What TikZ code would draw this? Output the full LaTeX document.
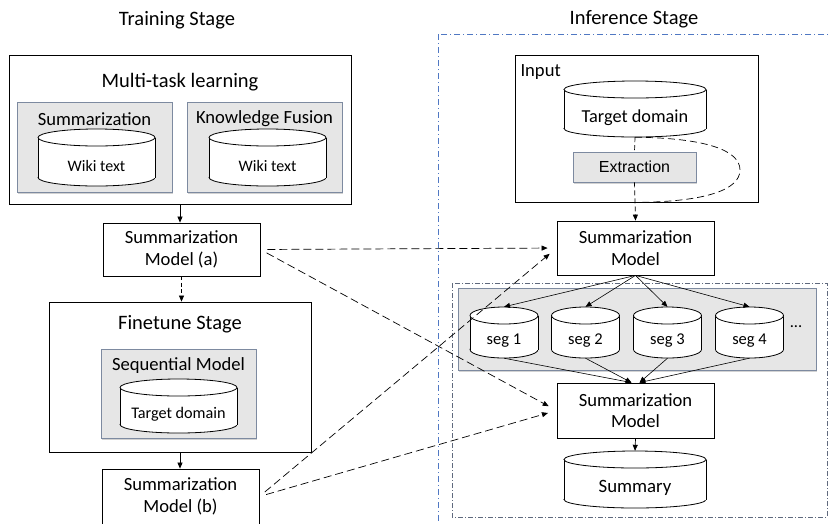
\documentclass[tikz,border=0pt]{standalone}
\usepackage{fontspec}
\setmainfont{Carlito}
\newfontfamily\arialf{Liberation Sans}
\usetikzlibrary{arrows.meta,shadows}
\definecolor{panelfill}{RGB}{230,230,230}
\definecolor{panelborder}{RGB}{125,138,160}
\definecolor{stageblue}{RGB}{80,120,195}
\definecolor{innergray}{RGB}{95,105,125}
\newcommand{\ry}{8.5}
\newcommand{\mycyl}[7]{%
 \path[fill=white,draw,line width=0.8pt] ({#2},{#4-\ry}) ellipse[x radius=#5pt, y radius=\ry pt];
 \fill[white] ({#2-#5},{#3+\ry}) rectangle ({#2+#5},{#4-\ry});
 \draw[line width=0.8pt] ({#2-#5},{#3+\ry}) -- ({#2-#5},{#4-\ry}) ({#2+#5},{#3+\ry}) -- ({#2+#5},{#4-\ry});
 \path[fill=white,draw,line width=0.8pt] ({#2},{#3+\ry}) ellipse[x radius=#5pt, y radius=\ry pt];
 \node[inner sep=0, minimum width={2*#5}, minimum height={#4-#3}] (#1) at ({#2},{(#3+#4)/2}) {};
 \node[font=#6] at ({#2},{(#3+#4)/2+\ry}) {#7};
}
\tikzset{
 titlef/.style={font=\fontsize{20.5}{24}\selectfont},
 midf/.style={font=\fontsize{18.6}{22}\selectfont},
 plainbox/.style={draw=black, line width=0.8pt, fill=white, inner sep=0},
 modelbox/.style={plainbox, align=center, font=\fontsize{18.6}{21.5}\selectfont},
 graybox/.style={draw=panelborder, line width=0.8pt, fill=panelfill, inner sep=0,
   drop shadow={shadow xshift=1.2pt, shadow yshift=-1.5pt, opacity=0.35}},
 arr/.style={line width=0.7pt, -{Triangle[length=6pt,width=5pt]}},
 darr/.style={arr, dash pattern=on 8pt off 4pt},
 sdarr/.style={arr, dash pattern=on 4pt off 2.5pt},
}
\begin{document}
\begin{tikzpicture}[x=1pt,y=-1pt]
\useasboundingbox (0,0) rectangle (829,523);
% stage titles
\node[titlef] (trtitle) at (177,20) {Training Stage};
\node[titlef] (inftitle) at (634,19) {Inference Stage};
% frames on the right
\draw[stageblue, line width=0.8pt, dash pattern=on 6pt off 3pt on 1pt off 3pt] (438,34) rectangle (840,540);
\draw[innergray, line width=0.7pt, dash pattern=on 5pt off 2pt on 1pt off 2pt] (452,283) rectangle (827,517);
% ---------- training side ----------
\node[plainbox, minimum width=342, minimum height=149] (mtl) at (180,129.5) {};
\node[titlef] (mtltitle) at (180,82) {Multi-task learning};
\node[graybox, minimum width=155, minimum height=90] (gsum) at (94.5,147) {};
\node[midf] (gsumt) at (94.5,119) {Summarization};
\node[graybox, minimum width=155, minimum height=90] (gkf) at (264.5,147) {};
\node[midf] (gkft) at (264.5,119) {Knowledge Fusion};
\mycyl{wiki1}{96.5}{129}{186}{58.5}{\fontsize{16}{19}\selectfont}{Wiki text}
\mycyl{wiki2}{267.5}{129}{186}{58.5}{\fontsize{16}{19}\selectfont}{Wiki text}

\node[modelbox, minimum width=157, minimum height=53] (ma) at (181.5,249.5) {Summarization\\Model (a)};

\node[plainbox, minimum width=262, minimum height=150] (ft) at (180,377) {};
\node[titlef] (fttitle) at (180,324) {Finetune Stage};
\node[graybox, minimum width=155, minimum height=89] (seq) at (178.5,393.5) {};
\node[midf] (seqt) at (178.5,366) {Sequential Model};
\mycyl{tgtb}{178.5}{379}{433}{58.5}{\fontsize{16.2}{19}\selectfont}{Target domain}

\node[modelbox, minimum width=157, minimum height=55] (mb) at (180.5,496.5) {Summarization\\Model (b)};

\draw[arr] (mtl.south) -- (mtl.south |- ma.north);
\draw[sdarr] (ma.south) -- (ma.south |- ft.north);
\draw[arr] (ft.south) -- (ft.south |- mb.north);

% ---------- inference side ----------
\node[plainbox, minimum width=243, minimum height=147] (inp) at (636.5,128.5) {};
\node[midf, anchor=west] (inpt) at (517,72) {Input};
\mycyl{tgt}{635}{81}{137}{71}{\fontsize{18.3}{22}\selectfont}{Target domain}
\node[graybox, minimum width=123, minimum height=30, font=\arialf\fontsize{16}{19}\selectfont] (ext) at (634.5,167) {Extraction};
\node[modelbox, minimum width=157, minimum height=54] (m1) at (635.5,248) {Summarization\\Model};

\coordinate (loopend) at (ext.south |- inp.south);
\draw[line width=0.7pt, dash pattern=on 5pt off 3pt] (tgt.south) -- (ext.north);
\draw[darr, dash pattern=on 5pt off 3pt] (ext.south) -- (m1.north);
\draw[line width=0.7pt, dash pattern=on 7pt off 4pt] (tgt.south) .. controls (705,138) and (740,150) .. (740,170) .. controls (740,190) and (705,202) .. (loopend);

\node[graybox, minimum width=358, minimum height=82] (segpanel) at (637,329) {};
\mycyl{seg1}{504}{307}{358}{34}{\fontsize{16.5}{20}\selectfont}{seg 1}
\mycyl{seg2}{585.5}{307}{358}{34}{\fontsize{16.5}{20}\selectfont}{seg 2}
\mycyl{seg3}{667.5}{307}{358}{34}{\fontsize{16.5}{20}\selectfont}{seg 3}
\mycyl{seg4}{749.5}{307}{358}{34}{\fontsize{16.5}{20}\selectfont}{seg 4}
\node[font=\fontsize{16.5}{20}\selectfont] (dots) at (796,327) {...};

\node[modelbox, minimum width=157, minimum height=55] (m2) at (635.5,410.5) {Summarization\\Model};
\mycyl{summ}{635}{451}{508}{71}{\fontsize{18.8}{22}\selectfont}{Summary}

\foreach \s in {seg1,seg2,seg3,seg4}{
  \draw[arr, line width=0.6pt] (m1.south) -- (\s.north);
}
\draw[arr, line width=0.6pt] (seg1.south) -- ([xshift=-4pt]m2.north);
\draw[arr, line width=0.6pt] (seg2.south) -- ([xshift=-4pt]m2.north);
\draw[arr, line width=0.6pt] (seg3.south) -- ([xshift=4pt]m2.north);
\draw[arr, line width=0.6pt] (seg4.south) -- ([xshift=4pt]m2.north);
\draw[arr] (m2.south) -- (summ.north);

% ---------- cross connections ----------
\draw[darr, shorten <=7pt, shorten >=9pt] (ma.east) -- (m1.west);
\draw[darr, shorten <=7pt, shorten >=9pt] (ma.east) -- (m2.west);
\draw[darr, shorten <=7pt, shorten >=9pt] (mb.east) -- (m1.west);
\draw[darr, shorten <=7pt, shorten >=9pt] (mb.east) -- (m2.west);
\end{tikzpicture}
\end{document}
